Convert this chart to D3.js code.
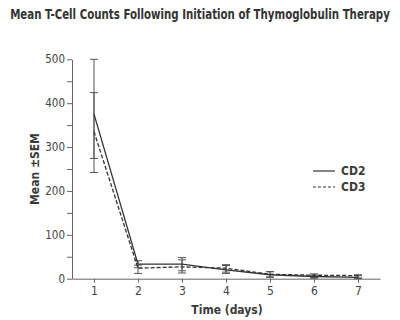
<!DOCTYPE html>
<html><head><meta charset="utf-8">
<script src="https://cdn.jsdelivr.net/npm/d3@7"></script>
<style>
html,body{margin:0;padding:0;background:#fff;}
svg{display:block;}
text{font-family:"DejaVu Sans Condensed","DejaVu Sans",sans-serif;font-stretch:condensed;}
</style></head>
<body>
<svg id="chart" width="400" height="320"></svg>
<script>
const days = [1, 2, 3, 4, 5, 6, 7];
const cd2Mean = [375, 33, 33, 20, 9, 5, 3];
const cd2Low  = [242, 25, 18, 12, 3, 1, 0];
const cd2High = [500, 41, 48, 30, 16, 8, 7];
const cd3Mean = [335, 24, 27, 24, 10, 8, 7];
const cd3Low  = [274, 12, 13, 15, 4, 3, 2];
const cd3High = [424, 31, 43, 32, 16, 11, 9];
const yTicks = [0, 100, 200, 300, 400, 500];
const seriesNames = ["CD2", "CD3"];

const svg = d3.select("#chart");
const x = d3.scaleLinear().domain([0.5, 7.5]).range([72, 380]);
const y = d3.scaleLinear().domain([0, 500]).range([278.7, 59.3]);
const axisColor = "#666";
const textColor = "#3a3a3a";
const ff = '"DejaVu Sans Condensed","DejaVu Sans",sans-serif';

// title: condensed horizontally to the reference width
const title = svg.append("text").attr("x", 0).attr("y", 0).attr("text-anchor", "middle")
  .attr("font-size", 13.5).attr("font-weight", "bold").attr("fill", "#333")
  .text("Mean T-Cell Counts Following Initiation of Thymoglobulin Therapy");
const w0 = title.node().getComputedTextLength();
const sx = w0 > 0 ? Math.min(1, 380 / w0) : 1;
title.attr("transform", `translate(200,19) scale(${sx},1)`);

// y axis
const yAxis = d3.axisLeft(y).tickValues(d3.range(0, 501, 50)).tickSize(5).tickSizeOuter(0)
  .tickFormat(d => yTicks.includes(d) ? d : "");
const gy = svg.append("g").attr("transform", "translate(72,0)").call(yAxis);
gy.select(".domain").attr("stroke", axisColor);
gy.selectAll(".tick line").attr("stroke", axisColor);
gy.selectAll(".tick text").attr("font-size", 11.5).attr("fill", "#444").attr("x", -7)
  .style("font-family", ff).style("font-stretch", "condensed");

// x axis
const xAxis = d3.axisBottom(x).tickValues(days).tickSize(4).tickSizeOuter(0).tickFormat(d3.format("d"));
const gx = svg.append("g").attr("transform", "translate(0,278.7)").call(xAxis);
gx.select(".domain").attr("stroke", axisColor);
gx.selectAll(".tick line").attr("stroke", axisColor);
gx.selectAll(".tick text").attr("font-size", 12).attr("fill", "#444").attr("y", 8)
  .style("font-family", ff).style("font-stretch", "condensed");

// axis titles
svg.append("text").attr("x", 227).attr("y", 314).attr("text-anchor", "middle")
  .attr("font-size", 12).attr("font-weight", "bold").attr("fill", textColor).text("Time (days)");
svg.append("text").attr("transform", "translate(39,169) rotate(-90)").attr("text-anchor", "middle")
  .attr("font-size", 12).attr("font-weight", "bold").attr("fill", textColor).text("Mean \u00B1SEM");

// error bars
function errorBars(low, high, cls) {
  const g = svg.append("g").attr("class", cls).attr("stroke", "#555").attr("stroke-width", 1);
  days.forEach((d, i) => {
    const cx = x(d);
    g.append("line").attr("x1", cx).attr("x2", cx).attr("y1", y(low[i])).attr("y2", y(high[i]));
    g.append("line").attr("x1", cx - 4).attr("x2", cx + 4).attr("y1", y(low[i])).attr("y2", y(low[i]));
    g.append("line").attr("x1", cx - 4).attr("x2", cx + 4).attr("y1", y(high[i])).attr("y2", y(high[i]));
  });
}
errorBars(cd2Low, cd2High, "err-cd2");
errorBars(cd3Low, cd3High, "err-cd3");

const line = d3.line().x((d, i) => x(days[i])).y(d => y(d));
svg.append("path").datum(cd3Mean).attr("d", line).attr("fill", "none")
  .attr("stroke", "#333").attr("stroke-width", 1.3).attr("stroke-dasharray", "4,2");
svg.append("path").datum(cd2Mean).attr("d", line).attr("fill", "none")
  .attr("stroke", "#333").attr("stroke-width", 1.3);

// legend
const leg = svg.append("g");
seriesNames.forEach((n, i) => {
  const ly = 171 + i * 16;
  leg.append("line").attr("x1", 313).attr("x2", 335).attr("y1", ly).attr("y2", ly)
    .attr("stroke", "#333").attr("stroke-width", 1.2).attr("stroke-dasharray", i === 1 ? "3,2" : null);
  leg.append("text").attr("x", 341).attr("y", ly + 4).attr("font-size", 12).attr("font-weight", "bold")
    .attr("fill", textColor).text(n);
});
</script>
</body></html>
